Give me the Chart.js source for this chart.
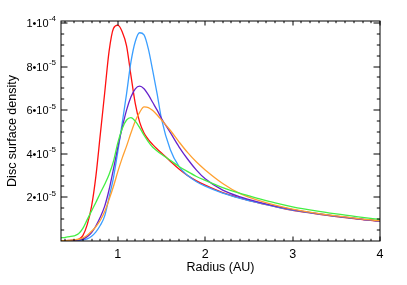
<!DOCTYPE html>
<html>
<head>
<meta charset="utf-8">
<script src="https://cdn.jsdelivr.net/npm/chart.js@4"></script>
<style>
  html, body { margin: 0; padding: 0; background: #fff; }
</style>
</head>
<body>
<canvas id="disc" width="407" height="285"></canvas>
<script>
// radius in AU, densities in units of 1e-5
var radius = [0.35,0.4,0.45,0.5,0.55,0.6,0.65,0.7,0.75,0.8,0.85,0.9,0.95,1.0,1.05,1.1,1.15,1.2,1.25,1.3,
              1.35,1.4,1.45,1.5,1.6,1.7,1.8,1.9,2.0,2.2,2.4,2.6,2.8,3.0,3.25,3.5,3.75,4.0];

var redVals    = [0.02,0.02,0.03,0.04,0.08,0.25,0.75,1.6,3.0,4.9,6.8,8.7,9.75,9.9,9.6,8.95,7.6,6.3,5.45,4.95,
                  4.65,4.42,4.22,4.04,3.66,3.3,3.0,2.76,2.56,2.22,1.97,1.76,1.58,1.41,1.26,1.12,1.0,0.9];
var blueVals   = [0.01,0.01,0.01,0.02,0.03,0.05,0.1,0.22,0.42,0.72,1.15,2.0,2.9,4.1,5.4,6.75,8.2,9.15,9.55,9.45,
                  8.8,7.8,6.75,5.6,4.2,3.42,3.0,2.72,2.52,2.2,1.96,1.76,1.58,1.42,1.27,1.13,1.01,0.91];
var purpleVals = [0.01,0.01,0.02,0.03,0.05,0.09,0.2,0.38,0.7,1.1,1.6,2.35,3.3,4.3,5.2,6.0,6.6,6.98,7.1,6.98,
                  6.7,6.35,6.0,5.62,4.98,4.32,3.75,3.25,2.85,2.33,2.02,1.79,1.6,1.44,1.28,1.14,1.02,0.92];
var orangeVals = [0.02,0.02,0.03,0.05,0.08,0.14,0.26,0.45,0.66,0.95,1.35,1.9,2.5,3.18,3.8,4.35,4.95,5.5,5.9,6.15,
                  6.12,5.98,5.78,5.55,5.08,4.55,4.05,3.62,3.26,2.64,2.17,1.87,1.64,1.46,1.29,1.15,1.03,0.93];
var greenVals  = [0.15,0.17,0.2,0.24,0.33,0.58,0.98,1.38,1.78,2.2,2.6,3.05,3.65,4.5,5.15,5.55,5.66,5.5,5.2,4.85,
                  4.55,4.3,4.13,3.98,3.7,3.42,3.18,2.96,2.78,2.45,2.18,1.96,1.75,1.57,1.39,1.24,1.11,0.99];

var xTicks = [1, 2, 3, 4];
var yTicks = [2, 4, 6, 8, 10];
var yMant  = ['2', '4', '6', '8', '1'];
var yExp   = ['-5', '-5', '-5', '-5', '-4'];

function pts(vals) {
  return radius.map(function (r, i) { return { x: r, y: vals[i] }; });
}

function line(vals, color) {
  return {
    data: pts(vals),
    borderColor: color,
    borderWidth: 1.3,
    pointRadius: 0,
    fill: false,
    cubicInterpolationMode: 'monotone'
  };
}

var FONT = '"Liberation Sans", Arial, sans-serif';

var idlAxes = {
  id: 'idlAxes',
  afterDraw: function (chart) {
    var ctx = chart.ctx, a = chart.chartArea;
    var xs = chart.scales.x, ys = chart.scales.y;
    ctx.save();
    ctx.strokeStyle = '#000';
    ctx.lineWidth = 1;
    ctx.strokeRect(a.left, a.top, a.right - a.left, a.bottom - a.top);

    ctx.beginPath();
    // x ticks (major + minor every 0.1)
    for (var k = 4; k <= 40; k++) {
      var v = k / 10;
      var px = Math.round(xs.getPixelForValue(v));
      var len = (k % 10 === 0) ? 4.5 : 2.2;
      ctx.moveTo(px, a.bottom); ctx.lineTo(px, a.bottom - len);
      ctx.moveTo(px, a.top); ctx.lineTo(px, a.top + len);
    }
    // y ticks (major every 2, minor every 0.5)
    for (var j = 1; j <= 20; j++) {
      var yv = j * 0.5;
      var py = Math.round(ys.getPixelForValue(yv));
      var ylen = (j % 4 === 0) ? 6.5 : 3.2;
      ctx.moveTo(a.left, py); ctx.lineTo(a.left + ylen, py);
      ctx.moveTo(a.right, py); ctx.lineTo(a.right - ylen, py);
    }
    ctx.stroke();

    ctx.fillStyle = '#000';
    // x labels
    ctx.font = '12.5px ' + FONT;
    ctx.textAlign = 'center';
    ctx.textBaseline = 'alphabetic';
    xTicks.forEach(function (t) {
      ctx.fillText(String(t), xs.getPixelForValue(t), 257.5);
    });
    // y labels with superscript exponent
    ctx.textAlign = 'right';
    yTicks.forEach(function (t, i) {
      var py = ys.getPixelForValue(t);
      ctx.font = '8px ' + FONT;
      var ew = ctx.measureText(yExp[i]).width;
      ctx.fillText(yExp[i], 56, py - 1.5);
      ctx.font = '11px ' + FONT;
      ctx.fillText(yMant[i] + '\u2022' + '10', 56 - ew - 0.3, py + 4);
    });
    // titles
    ctx.font = '12.5px ' + FONT;
    ctx.textAlign = 'center';
    ctx.fillText('Radius (AU)', (a.left + a.right) / 2, 271);
    ctx.translate(15.5, (a.top + a.bottom) / 2);
    ctx.rotate(-Math.PI / 2);
    ctx.fillText('Disc surface density', 0, 0);
    ctx.restore();
  }
};

new Chart(document.getElementById('disc'), {
  type: 'line',
  data: {
    datasets: [
      line(greenVals, '#44EE44'),
      line(orangeVals, '#FFA030'),
      line(purpleVals, '#6622CC'),
      line(blueVals, '#3A9EFF'),
      line(redVals, '#FF1010')
    ]
  },
  options: {
    responsive: false,
    animation: false,
    layout: { padding: { left: 61, right: 27, top: 21, bottom: 44 } },
    plugins: { legend: { display: false }, tooltip: { enabled: false } },
    scales: {
      x: { type: 'linear', display: false, min: 0.35, max: 4.0 },
      y: { type: 'linear', display: false, min: 0, max: 10.09 }
    }
  },
  plugins: [idlAxes]
});
</script>
</body>
</html>
